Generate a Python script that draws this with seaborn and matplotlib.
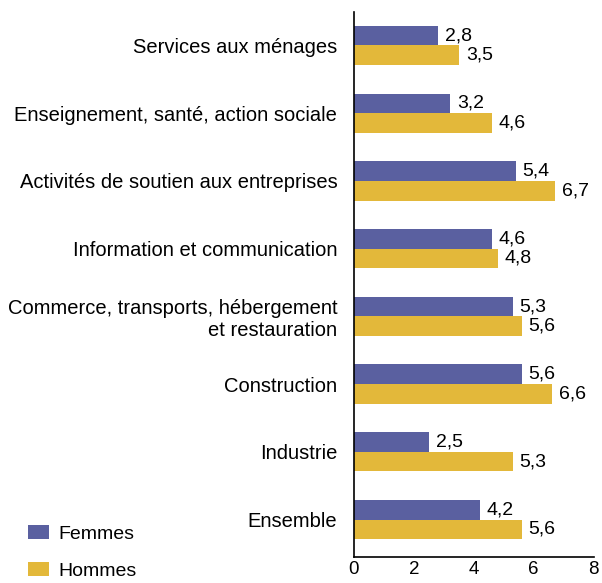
import pandas as pd
import numpy as np
import matplotlib.pyplot as plt
import seaborn as sns
from matplotlib.patches import Patch

# ======== Data ========

categories = [
    "Services aux ménages",
    "Enseignement, santé, action sociale",
    "Activités de soutien aux entreprises",
    "Information et communication",
    "Commerce, transports, hébergement\net restauration",
    "Construction",
    "Industrie",
    "Ensemble",
]
femmes = [2.8, 3.2, 5.4, 4.6, 5.3, 5.6, 2.5, 4.2]
hommes = [3.5, 4.6, 6.7, 4.8, 5.6, 6.6, 5.3, 5.6]
series = ["Femmes", "Hommes"]
xticks = [0, 2, 4, 6, 8]

colors = {"Femmes": "#5a60a0", "Hommes": "#e3b83a"}

df = pd.DataFrame({"Secteur": categories, "Femmes": femmes, "Hommes": hommes})
df = df.melt(id_vars="Secteur", var_name="Sexe", value_name="Valeur")

# ======== Plot ========

sns.set_style("white")
plt.rcParams['font.family'] = ['Liberation Sans', 'DejaVu Sans']
plt.rcParams['text.color'] = 'black'
plt.rcParams['xtick.color'] = 'black'
plt.rcParams['ytick.color'] = 'black'

fig = plt.figure(figsize=(6.02, 5.83), dpi=100)
ax = fig.add_axes([0.588, 0.045, 0.398, 0.934])

sns.barplot(data=df, y="Secteur", x="Valeur", hue="Sexe", hue_order=series,
            palette=colors, orient="h", width=0.58, saturation=1,
            linewidth=0, edgecolor="none", legend=False, ax=ax)

for cont in ax.containers:
    ax.bar_label(cont, labels=[f"{v:.1f}".replace(".", ",") for v in cont.datavalues],
                 padding=5, fontsize=14, color="black",
                 family=['Liberation Sans Narrow', 'Liberation Sans'])

ax.set_xlim(0, 8)
ax.set_ylim(7.55, -0.49)
ax.set_xticks(xticks)
ax.set_xticklabels([str(t) for t in xticks], fontsize=13.5)
ax.set_xlabel("")
ax.set_ylabel("")
ax.tick_params(axis="x", direction="in", length=5, width=1, color="black", pad=3)
ax.tick_params(axis="y", length=0, pad=12, labelsize=14.5)
for side in ["top", "right"]:
    ax.spines[side].set_visible(False)
for side in ["left", "bottom"]:
    ax.spines[side].set_color("black")
    ax.spines[side].set_linewidth(1.2)

handles = [Patch(facecolor=colors[s], edgecolor="none", label=s) for s in series]
fig.legend(handles=handles, loc="lower left", bbox_to_anchor=(0.017, -0.025),
           frameon=False, fontsize=14, handlelength=1.1, handleheight=0.75,
           labelspacing=1.0, handletextpad=0.5)

plt.savefig("out.png", dpi=100)
